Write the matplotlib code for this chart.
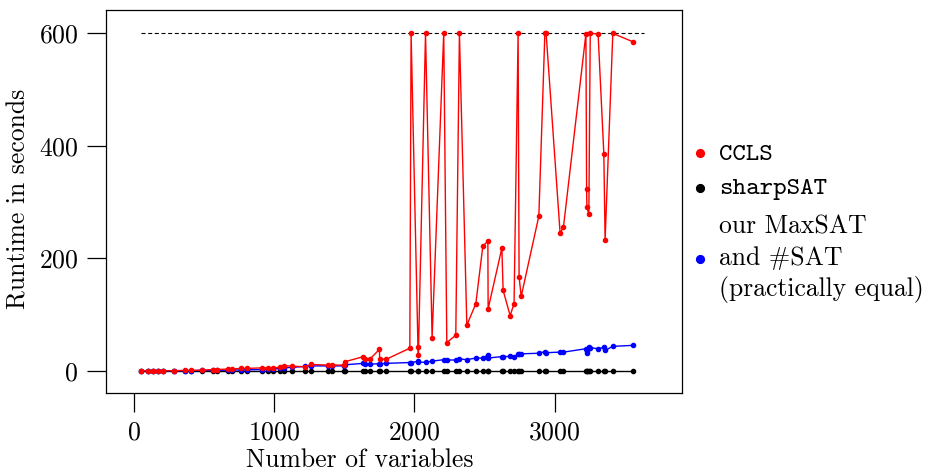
import matplotlib
matplotlib.use("Agg")
import matplotlib.pyplot as plt
from matplotlib.lines import Line2D

plt.rcParams['font.family'] = ['cmr10', 'DejaVu Serif']
plt.rcParams['mathtext.fontset'] = 'cm'
plt.rcParams['axes.unicode_minus'] = False
plt.rcParams['axes.formatter.use_mathtext'] = True

# number of variables per instance (shared by all three solvers)
n_vars = [45, 100, 136, 171, 203, 284, 362, 403, 481, 564,
          593, 667, 700, 760, 803, 910, 953, 991, 1041, 1071,
          1126, 1217, 1264, 1381, 1412, 1500, 1505, 1636, 1645, 1684,
          1750, 1752, 1796, 1967, 1976, 2025, 2028, 2079, 2126, 2209,
          2231, 2295, 2321, 2374, 2438, 2488, 2524, 2526, 2624, 2633,
          2683, 2711, 2740, 2747, 2762, 2888, 2931, 2940, 3040, 3064,
          3224, 3229, 3231, 3245, 3255, 3311, 3352, 3361, 3416, 3559]

ccls = [0, 0, 0, 0, 0, 0, 0.5, 0.5, 1, 2,
        2, 3, 3, 4, 4, 5, 5, 5, 6, 9,
        8, 7, 11, 10, 10, 10, 16, 25, 20, 21,
        38, 21, 20, 40, 600, 43, 27, 600, 59, 600,
        50, 63, 600, 81, 119, 221, 231, 110, 218, 143,
        98, 119, 600, 167, 132, 275, 600, 600, 244, 256,
        599, 323, 291, 278, 600, 599, 386, 232, 600, 585]

ours = [0, 0, 0, 0, 0, 0, 0, 0, 0.5, 0.5,
        0.5, 1, 1, 1.5, 1.5, 2, 2.5, 3, 4, 5,
        6, 7.5, 8.5, 8.5, 8.5, 8.5, 10.5, 13, 11, 11.5,
        12.5, 12.5, 13, 14.5, 14.5, 16.5, 15, 15, 17, 19.5,
        19, 19, 21, 19.5, 22.5, 22.5, 28, 22.5, 25, 25,
        25.5, 25, 29.5, 30, 30, 31, 34, 32, 33, 33,
        39, 31, 35, 42, 41, 39, 41.5, 36, 43.3, 45]

sharpsat = [0.2] * len(n_vars)

timeout = 600
x_ticks = [0, 1000, 2000, 3000]
y_ticks = [0, 200, 400, 600]

W, H = 932, 472
FS = 18.5
fig = plt.figure(figsize=(W / 100, H / 100), dpi=100)
ax = fig.add_axes([106 / W, (H - 393) / H, 576 / W, 383 / H])

ax.hlines(timeout, 45, 3640, colors='black', linestyles=(0, (3.6, 2.4)), linewidth=0.8)
ax.plot(n_vars, sharpsat, '-o', color='black', markersize=3, linewidth=1.0)
ax.plot(n_vars, ours, '-o', color='#0000ff', markersize=3, linewidth=1.0)
ax.plot(n_vars, ccls, '-o', color='#ff0000', markersize=3, linewidth=1.0)

ax.set_xlim(-202, 3910)
ax.set_ylim(-39.7, 641.5)
ax.set_xticks(x_ticks)
ax.set_yticks(y_ticks)
ax.tick_params(direction='out', length=14, width=0.9, labelsize=FS, pad=6)
for s in ax.spines.values():
    s.set_linewidth(0.9)

fig.text(360 / W, 1 - 467 / H, 'Number of variables', fontsize=FS, ha='center', va='baseline')
fig.text(19 / W, 1 - 199 / H, 'Runtime in seconds', fontsize=FS, ha='center', va='center', rotation=90)

# legend placed by hand to the right of the box
tx = 719 / W
for y, c in [(153, '#ff0000'), (188, 'black'), (259, '#0000ff')]:
    fig.add_artist(Line2D([700 / W], [1 - y / H], marker='o', markersize=5.6,
                          color=c, linestyle='none', transform=fig.transFigure))
fig.text(tx, 1 - 160.5 / H, 'CCLS', fontsize=FS, va='baseline', family='cmtt10')
fig.text(tx, 1 - 193.5 / H, 'sharpSAT', fontsize=FS, va='baseline', family='cmtt10')
fig.text(tx, 1 - 233 / H, 'our MaxSAT', fontsize=FS, va='baseline')
fig.text(tx, 1 - 265 / H, 'and #SAT', fontsize=FS, va='baseline')
fig.text(tx, 1 - 296 / H, '(practically equal)', fontsize=FS, va='baseline')

fig.savefig('out.png', dpi=100)
